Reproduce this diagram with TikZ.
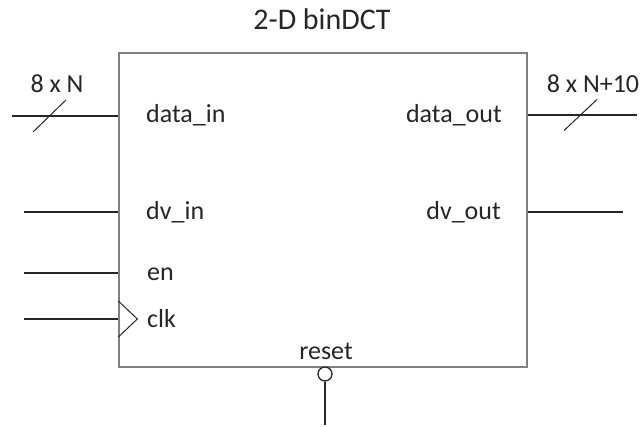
\documentclass[tikz,border=0pt]{standalone}
\usepackage{fontspec}
\setmainfont{Carlito}
\usepackage{xcolor}
\usetikzlibrary{positioning,calc}

\begin{document}
\begin{tikzpicture}[
  x=1pt, y=-1pt,
  font=\fontsize{26}{28}\selectfont,
  block/.style ={rectangle, draw=black!50, line width=1.3pt,
                 minimum width=408pt, minimum height=314pt, inner sep=0pt},
  wire/.style  ={draw=black!85, line width=1.3pt},
  port/.style  ={inner sep=0pt, text=black!85},
  title/.style ={inner sep=0pt, text=black!85, font=\fontsize{30}{32}\selectfont},
  bubble/.style={circle, draw=black!85, line width=1.3pt, fill=white,
                 minimum size=14pt, inner sep=0pt},
]
\useasboundingbox (0,0) rectangle (643,427);

\def\yA{116}
\def\yB{212}
\def\yC{273}
\def\yD{319}

% ---------- BLOCK ----------
\node[block] (dct) at (323,210) {};
\node[title, anchor=base] (name) at (322,30) {2-D binDCT};

% ---------- INPUTS (left) ----------
\coordinate (din)  at (12,\yA);
\coordinate (dvin) at (24,\yB);
\coordinate (en)   at (24,\yC);
\coordinate (clk)  at (24,\yD);
\draw[wire] (din)  -- (din -| dct.west);
\draw[wire] (dvin) -- (dvin -| dct.west);
\draw[wire] (en)   -- (en -| dct.west);
\draw[wire] (clk)  -- (clk -| dct.west);

\node[port, anchor=base west] (ldin)  at (146,123) {data\_in};
\node[port, anchor=base west] (ldvin) at (146,220) {dv\_in};
\node[port, anchor=base west] (len)   at (147,281) {en};
\node[port, anchor=base west] (lclk)  at (147,328) {clk};

% clock wedge
\coordinate (ck) at (clk -| dct.west);
\draw[wire, line width=1pt] ($(ck)+(0,-18)$) -- ++(19,18) -- ++(-19,18);

% ---------- OUTPUTS (right) ----------
\coordinate (dout)  at (637,115);
\coordinate (dvout) at (623,\yB);
\draw[wire] (dout -| dct.east)  -- (dout);
\draw[wire] (dvout -| dct.east) -- (dvout);

\node[port, anchor=base east] (ldout)  at (502,123) {data\_out};
\node[port, anchor=base east] (ldvout) at (501,220) {dv\_out};

% ---------- bus widths ----------
\coordinate (bin)  at (49.5,116);
\coordinate (bout) at (580.5,115);
\draw[wire, line width=1pt] ($(bin)+(-16.5,16)$)  -- ++(33,-32);
\draw[wire, line width=1pt] ($(bout)+(-16.5,15.5)$) -- ++(33,-31);
\node[port, anchor=base] (win)  at (57,93)  {8 x N};
\node[port, anchor=base] (wout) at (593,93) {8 x N+10};

% ---------- RESET ----------
\node[bubble] (rst) at (325,374) {};
\coordinate (rstin) at (325,425);
\draw[wire] (rst.south) -- (rstin);
\node[port, anchor=base] (lrst) at (326,360) {reset};

\end{tikzpicture}
\end{document}
